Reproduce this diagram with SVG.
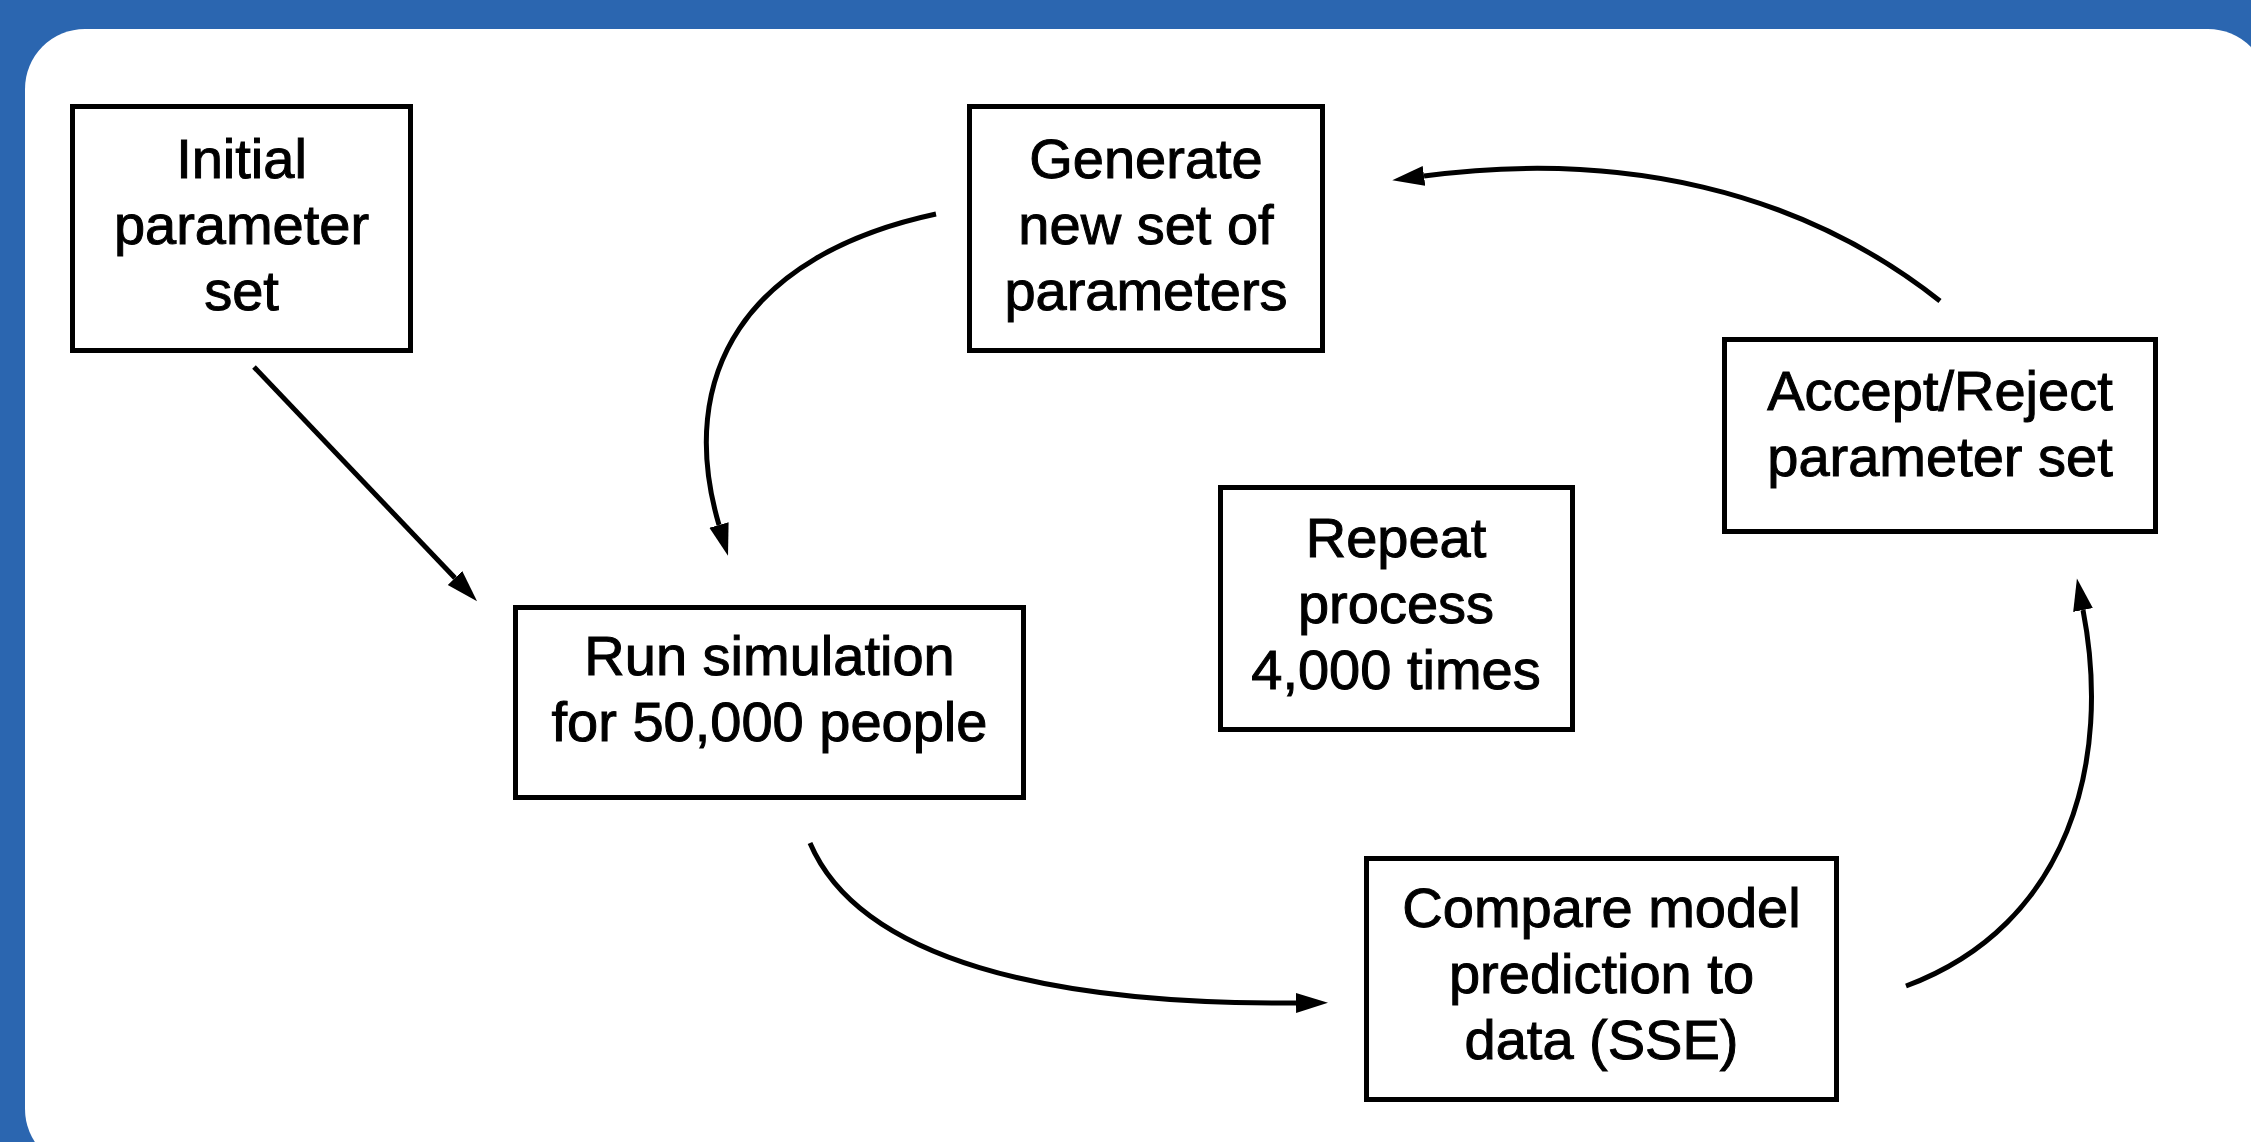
<svg xmlns="http://www.w3.org/2000/svg" width="2251" height="1142" viewBox="0 0 2251 1142">
  <defs>
    <style>
      .box { fill: #ffffff; stroke: #000000; stroke-width: 5; }
      .lbl { font-family: "Liberation Sans", Arial, Helvetica, sans-serif; font-size: 56px; fill: #000000; stroke: #000000; stroke-width: 1; text-anchor: middle; }
      .conn { fill: none; stroke: #000000; stroke-width: 5; }
    </style>
    <marker id="arrow" markerUnits="userSpaceOnUse" markerWidth="33" markerHeight="21" refX="0" refY="10" orient="auto">
      <path d="M0,0 L32,10 L0,20 z" fill="#000000"/>
    </marker>
  </defs>

  <rect x="0" y="0" width="2251" height="1142" fill="#2B66B0"/>
  <rect x="25" y="29" width="2243" height="1140" rx="60" ry="60" fill="#ffffff"/>

  <g id="connectors">
    <path class="conn" d="M254 367 L455 578" marker-end="url(#arrow)"/>
    <path class="conn" d="M936 214 C 745 255, 675 375, 719 525" marker-end="url(#arrow)"/>
    <path class="conn" d="M1940 301 C 1800 190, 1620 150, 1424 176" marker-end="url(#arrow)"/>
    <path class="conn" d="M810 843 C 860 960, 1050 1005, 1296 1003" marker-end="url(#arrow)"/>
    <path class="conn" d="M1906 986 C 2070 925, 2112 760, 2083 610" marker-end="url(#arrow)"/>
  </g>

  <g id="node-initial">
    <rect class="box" x="72.5" y="106.5" width="338" height="244"/>
    <text class="lbl" x="241.5" y="178">Initial</text>
    <text class="lbl" x="241.5" y="244">parameter</text>
    <text class="lbl" x="241.5" y="310">set</text>
  </g>

  <g id="node-generate">
    <rect class="box" x="969.5" y="106.5" width="353" height="244"/>
    <text class="lbl" x="1146" y="178">Generate</text>
    <text class="lbl" x="1146" y="244">new set of</text>
    <text class="lbl" x="1146" y="310">parameters</text>
  </g>

  <g id="node-accept">
    <rect class="box" x="1724.5" y="339.5" width="431" height="192"/>
    <text class="lbl" x="1940" y="410">Accept/Reject</text>
    <text class="lbl" x="1940" y="476">parameter set</text>
  </g>

  <g id="node-run">
    <rect class="box" x="515.5" y="607.5" width="508" height="190"/>
    <text class="lbl" x="769.5" y="675">Run simulation</text>
    <text class="lbl" x="769.5" y="741">for 50,000 people</text>
  </g>

  <g id="node-repeat">
    <rect class="box" x="1220.5" y="487.5" width="352" height="242"/>
    <text class="lbl" x="1396" y="557">Repeat</text>
    <text class="lbl" x="1396" y="623">process</text>
    <text class="lbl" x="1396" y="689">4,000 times</text>
  </g>

  <g id="node-compare">
    <rect class="box" x="1366.5" y="858.5" width="470" height="241"/>
    <text class="lbl" x="1601.5" y="927">Compare model</text>
    <text class="lbl" x="1601.5" y="993">prediction to</text>
    <text class="lbl" x="1601.5" y="1059">data (SSE)</text>
  </g>
</svg>
